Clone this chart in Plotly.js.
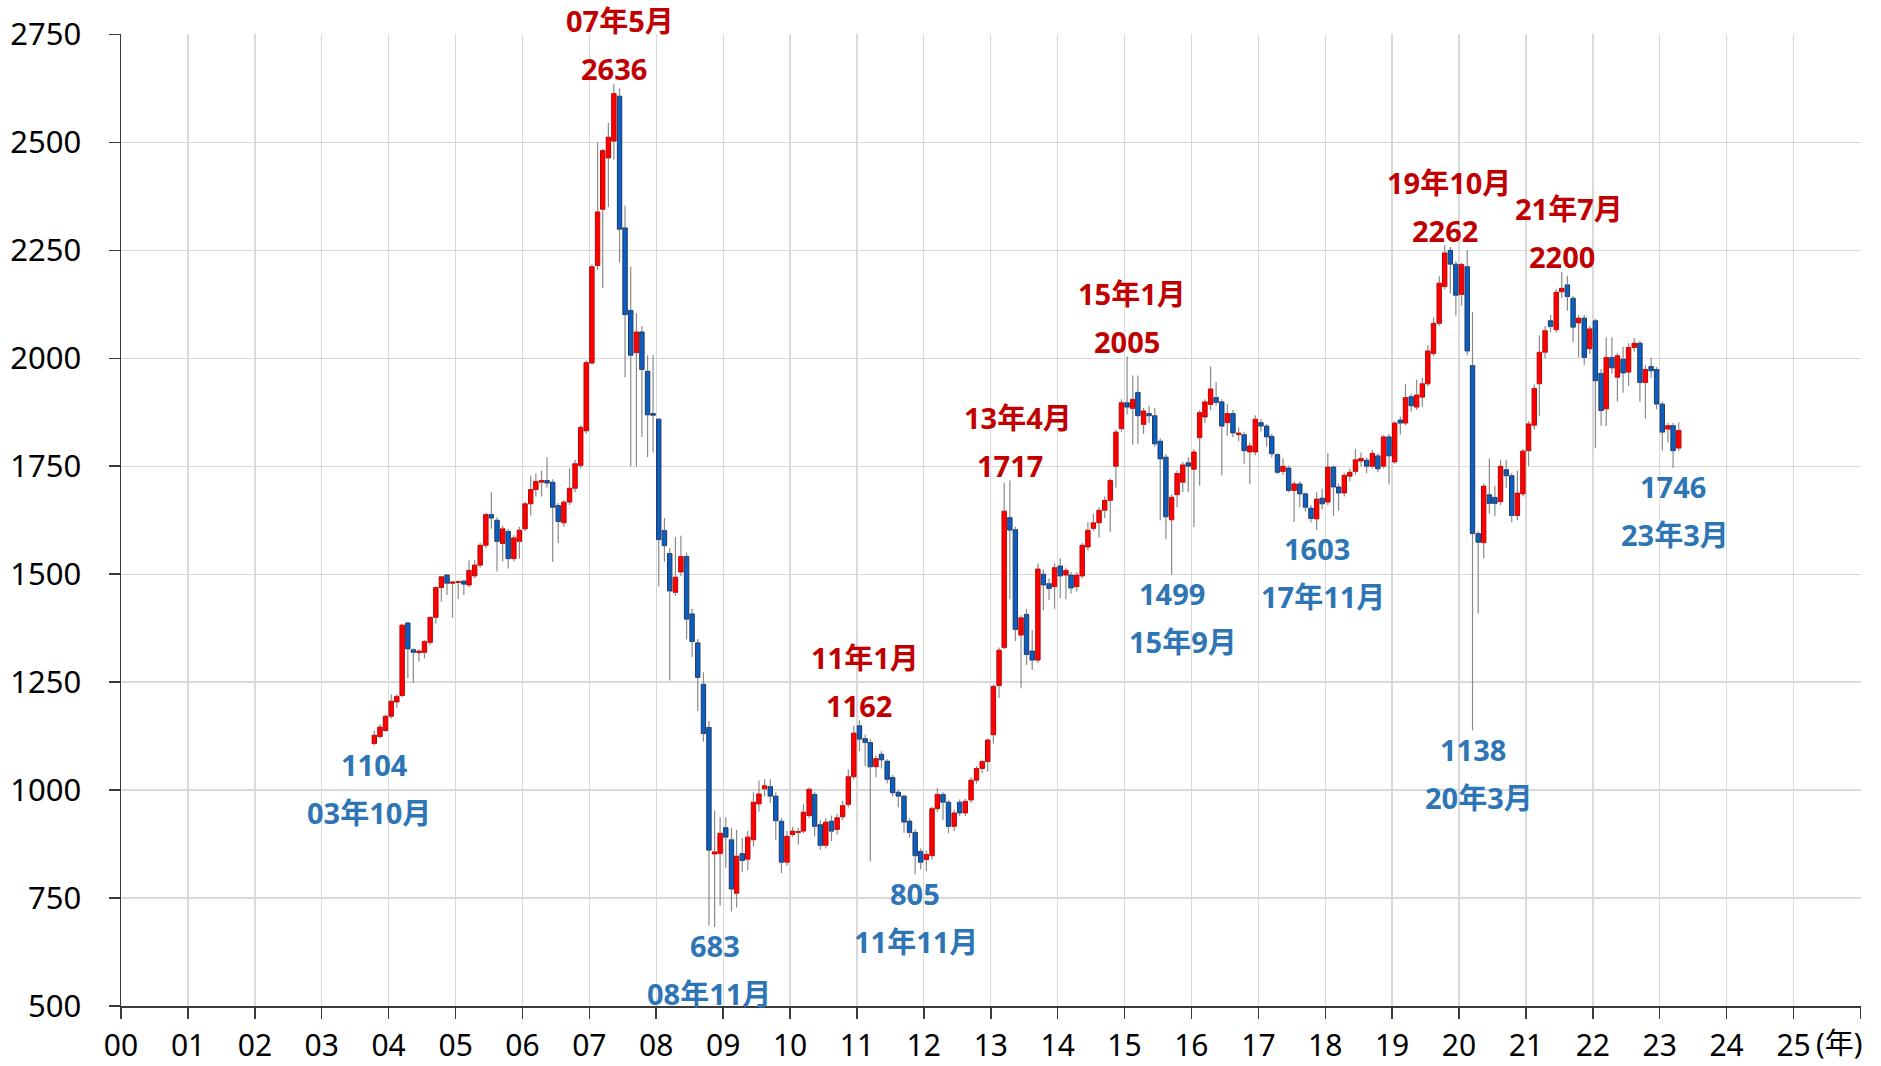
<!DOCTYPE html>
<html>
<head>
<meta charset="utf-8">
<script src="https://cdn.plot.ly/plotly-3.0.1.min.js"></script>
<style>
  html, body { margin: 0; padding: 0; background: #fff; }
  #chart { width: 1881px; height: 1066px; }
</style>
</head>
<body>
<div id="chart"></div>
<script>
// Monthly candles, first month 2003-10
const START_YEAR = 2003, START_MONTH = 10;

const openP = [
  1108,1124,1138,
  1171,1204,1219,1387,1325,1318,1319,1342,1400,1469,1498,1479,
  1481,1484,1475,1496,1521,1567,1638,1625,1571,1599,1536,1576,
  1605,1663,1696,1713,1717,1713,1659,1619,1667,1699,1752,1832,
  1989,2215,2345,2464,2503,2607,2302,2111,2013,2061,1970,1872,
  1859,1601,1548,1458,1505,1541,1408,1341,1245,1145,852,853,
  913,885,761,853,840,885,968,1003,1008,986,928,833,
  897,902,905,941,990,920,872,928,909,938,967,1031,
  1149,1119,1110,1054,1083,1067,1029,995,986,928,902,858,
  839,848,957,990,972,916,972,947,977,1023,1050,1066,
  1128,1242,1330,1631,1603,1359,1407,1322,1301,1500,1478,1471,
  1519,1498,1498,1471,1496,1563,1606,1619,1648,1671,1750,1837,
  1897,1884,1921,1847,1872,1867,1808,1771,1626,1684,1713,1758,
  1743,1816,1864,1893,1909,1899,1851,1872,1823,1823,1783,1783,
  1851,1843,1819,1777,1738,1746,1694,1709,1686,1653,1628,1676,
  1667,1748,1702,1688,1727,1738,1762,1764,1750,1774,1750,1818,
  1760,1857,1850,1911,1887,1910,1941,2011,2081,2166,2250,2218,
  2148,2212,1983,1594,1573,1684,1678,1668,1742,1728,1636,1686,
  1786,1845,1941,2014,2087,2066,2154,2170,2139,2082,2093,2022,
  2087,1965,1883,2002,1956,1998,1968,2025,2035,1944,1981,1974,
  1894,1836,1844,1792
];
const highP = [
  1138,1153,1175,
  1222,1222,1385,1390,1328,1326,1348,1402,1472,1496,1500,1484,
  1486,1487,1532,1532,1572,1642,1690,1632,1612,1605,1590,1610,
  1668,1728,1734,1740,1771,1720,1665,1672,1745,1765,1845,1995,
  2218,2500,2485,2545,2636,2625,2353,2212,2105,2075,2007,2007,
  1862,1630,1560,1586,1589,1550,1420,1350,1273,1160,953,937,
  937,913,908,889,905,995,1022,1025,1025,995,935,905,
  915,912,967,1006,995,930,935,941,945,975,1048,1149,
  1162,1128,1118,1080,1090,1072,1035,1000,990,935,910,865,
  860,962,1005,995,978,955,978,980,1030,1056,1070,1120,
  1245,1330,1712,1717,1610,1405,1420,1371,1525,1510,1490,1525,
  1537,1515,1505,1505,1572,1621,1640,1655,1680,1722,1835,1905,
  2005,1960,1960,1885,1890,1885,1815,1778,1685,1740,1760,1770,
  1790,1880,1905,1981,1945,1905,1895,1880,1840,1830,1805,1868,
  1860,1848,1825,1780,1768,1752,1715,1715,1690,1660,1690,1698,
  1780,1752,1710,1735,1745,1790,1782,1770,1788,1780,1822,1825,
  1855,1865,1940,1918,1951,1955,2030,2095,2190,2262,2258,2225,
  2222,2250,2107,1600,1710,1768,1705,1765,1765,1735,1740,1790,
  1855,1940,2053,2075,2100,2160,2200,2191,2145,2100,2100,2075,
  2092,1975,2049,2049,2012,2026,2035,2047,2040,1985,2002,1980,
  1900,1850,1850,1852
];
const lowP = [
  1104,1120,1135,
  1165,1190,1215,1259,1248,1298,1305,1336,1386,1436,1452,1399,
  1442,1452,1470,1490,1515,1560,1605,1506,1530,1513,1530,1536,
  1600,1636,1680,1680,1700,1529,1572,1610,1660,1690,1745,1825,
  1985,2205,2163,2350,2460,2222,1956,1750,1750,1818,1771,1782,
  1472,1529,1254,1450,1495,1349,1308,1183,1112,686,683,733,
  820,719,728,810,815,870,950,985,970,885,808,825,
  892,874,900,935,893,862,865,882,897,930,960,1025,
  1090,1056,835,1030,1050,1015,985,960,901,890,805,816,
  812,840,950,931,900,905,940,940,970,1015,1039,1043,
  1108,1213,1327,1442,1345,1236,1290,1278,1295,1417,1440,1420,
  1445,1442,1455,1460,1490,1555,1600,1585,1630,1598,1700,1830,
  1870,1800,1802,1825,1850,1795,1625,1581,1499,1655,1690,1690,
  1609,1705,1850,1880,1890,1729,1820,1817,1808,1756,1709,1775,
  1830,1795,1770,1732,1730,1690,1620,1655,1645,1620,1603,1650,
  1660,1635,1647,1680,1715,1730,1750,1734,1745,1736,1745,1708,
  1755,1823,1845,1877,1880,1888,1935,2005,2075,2160,2150,2099,
  2122,2007,1138,1409,1537,1640,1635,1660,1700,1620,1625,1680,
  1750,1835,1867,2000,2060,2060,2140,2110,2037,2002,1985,2010,
  1792,1844,1844,1965,1900,1920,1936,2015,1900,1860,1955,1882,
  1786,1805,1746,1785
];
const closeP = [
  1127,1146,1171,
  1206,1217,1382,1327,1319,1322,1344,1400,1469,1494,1479,1482,
  1483,1477,1509,1521,1567,1638,1630,1576,1605,1536,1584,1602,
  1663,1696,1715,1717,1711,1655,1622,1667,1699,1756,1840,1990,
  2212,2339,2481,2512,2613,2299,2101,2007,2061,1974,1869,1868,
  1580,1566,1461,1493,1541,1396,1344,1261,1131,861,857,900,
  891,771,847,837,891,972,991,1010,986,929,833,893,
  905,904,949,1002,916,872,926,905,936,964,1031,1132,
  1118,1110,1054,1073,1070,1025,994,986,926,902,848,833,
  851,957,990,972,916,947,947,974,1023,1050,1066,1116,
  1240,1324,1646,1602,1372,1399,1314,1301,1512,1475,1467,1515,
  1496,1509,1468,1498,1567,1602,1619,1648,1671,1717,1829,1897,
  1887,1905,1867,1878,1867,1802,1767,1633,1678,1733,1753,1750,
  1783,1874,1899,1929,1898,1843,1872,1827,1827,1786,1797,1859,
  1843,1818,1779,1736,1750,1694,1709,1686,1655,1629,1674,1663,
  1748,1702,1688,1729,1736,1765,1768,1750,1780,1744,1818,1774,
  1850,1850,1909,1890,1915,1941,2017,2081,2174,2244,2218,2146,
  2217,2017,1594,1574,1704,1664,1664,1750,1728,1636,1688,1785,
  1848,1930,2014,2064,2074,2153,2162,2143,2072,2093,2002,2068,
  1948,1879,2002,1978,2006,1966,2025,2035,1944,1974,1971,1894,
  1829,1844,1786,1833
];

// Labelled extremes
const peakMonths   = ['2007-05','2011-01','2013-04','2015-01','2019-10','2021-07'];
const troughMonths = ['2003-10','2008-11','2011-11','2015-09','2017-11','2020-03','2023-03'];

// Axis tick labels
const yearTickLabels = ['00','01','02','03','04','05','06','07','08','09','10','11','12',
  '13','14','15','16','17','18','19','20','21','22','23','24','25',''];
const yearUnitLabel = '(年)';
const yTicks = [500,750,1000,1250,1500,1750,2000,2250,2500,2750];

// ---- build ----
const months = [];
for (let i = 0; i < openP.length; i++) {
  const t = START_MONTH - 1 + i;
  const y = START_YEAR + Math.floor(t / 12);
  const m = (t % 12) + 1;
  months.push(y + '-' + String(m).padStart(2, '0'));
}
const xDates = months.map(s => s + '-15');

const UP = '#FF0000', UP_EDGE = '#C00000';
const DN = '#0A5FC0', DN_EDGE = '#1F3864';

const wx = [], wy = [];
for (let i = 0; i < months.length; i++) {
  const top = Math.max(openP[i], closeP[i]);
  const bot = Math.min(openP[i], closeP[i]);
  wx.push(xDates[i], xDates[i], null, xDates[i], xDates[i], null);
  wy.push(highP[i], top, null, bot, lowP[i], null);
}

const up = months.map((_, i) => closeP[i] >= openP[i]);

const wickTrace = {
  type: 'scatter', mode: 'lines', x: wx, y: wy,
  line: { color: '#8a8a8a', width: 1.2 }, connectgaps: false,
  hoverinfo: 'skip', showlegend: false
};
const bodyTrace = {
  type: 'bar', x: xDates,
  base: openP,
  y: closeP.map((c, i) => c - openP[i]),
  width: 24 * 86400000,
  marker: {
    color: up.map(u => u ? UP : DN),
    line: { color: up.map(u => u ? UP_EDGE : DN_EDGE), width: 1 }
  },
  hoverinfo: 'skip', showlegend: false
};

const FONT = 'Noto Sans, Noto Sans CJK JP, Liberation Sans, sans-serif';
const annotations = [];
function monthLabel(s) {
  const yy = s.slice(2, 4), mm = parseInt(s.slice(5, 7), 10);
  return yy + '年' + mm + '月';
}
// small horizontal nudges of the month labels (pixels), in label order
const peakLabelNudge   = [6, 6, 8, 5, 4, 7];
const troughLabelNudge = [-5, -6, 1, 11, 6, 6, 2];

peakMonths.forEach((s, k) => {
  const i = months.indexOf(s);
  annotations.push({ x: xDates[i], y: highP[i], text: String(highP[i]), showarrow: false,
    xanchor: 'center', yanchor: 'middle', yshift: 15,
    font: { family: FONT, size: 29, color: '#C00000', weight: 'bold' } });
  annotations.push({ x: xDates[i], y: highP[i], text: monthLabel(s), showarrow: false,
    xanchor: 'center', yanchor: 'middle', yshift: 63, xshift: peakLabelNudge[k],
    font: { family: FONT, size: 29, color: '#C00000', weight: 'bold' } });
});
troughMonths.forEach((s, k) => {
  const i = months.indexOf(s);
  annotations.push({ x: xDates[i], y: lowP[i], text: String(lowP[i]), showarrow: false,
    xanchor: 'center', yanchor: 'middle', yshift: -19,
    font: { family: FONT, size: 29, color: '#2E75B6', weight: 'bold' } });
  annotations.push({ x: xDates[i], y: lowP[i], text: monthLabel(s), showarrow: false,
    xanchor: 'center', yanchor: 'middle', yshift: -67, xshift: troughLabelNudge[k],
    font: { family: FONT, size: 29, color: '#2E75B6', weight: 'bold' } });
});

annotations.push({ x: '2025-09-05', y: 0, xref: 'x', yref: 'paper', text: yearUnitLabel,
  showarrow: false, xanchor: 'center', yanchor: 'middle', yshift: -36, borderpad: 0,
  font: { family: FONT, size: 29, color: '#000' } });

const tickvals = yearTickLabels.map((_, k) => (2000 + k) + '-01-01');

const layout = {
  width: 1881, height: 1066,
  margin: { l: 121, r: 20, t: 34, b: 60, pad: 0 },
  paper_bgcolor: '#fff', plot_bgcolor: '#fff',
  showlegend: false, hovermode: false, bargap: 0,
  font: { family: FONT, color: '#000' },
  xaxis: {
    type: 'date', range: ['2000-01-01', '2026-01-04'],
    tickmode: 'array', tickvals: tickvals, ticktext: yearTickLabels,
    showgrid: true, gridcolor: '#d9d9d9', gridwidth: 1.3,
    showline: true, linecolor: '#3a3a3a', linewidth: 1.5,
    ticks: 'outside', ticklen: 11, tickwidth: 1.5, tickcolor: '#3a3a3a',
    tickfont: { family: FONT, size: 30, color: '#000' },
    ticklabelstandoff: 1, zeroline: false, fixedrange: true
  },
  yaxis: {
    range: [500, 2751], tickmode: 'array', tickvals: yTicks,
    showgrid: true, gridcolor: '#d9d9d9', gridwidth: 1.3,
    showline: true, linecolor: '#3a3a3a', linewidth: 1.5,
    ticks: 'outside', ticklen: 11, tickwidth: 1.5, tickcolor: '#3a3a3a',
    tickfont: { family: FONT, size: 31, color: '#000' },
    ticklabelstandoff: 21, zeroline: false, fixedrange: true
  },
  annotations: annotations
};

Plotly.newPlot('chart', [wickTrace, bodyTrace], layout, { staticPlot: true, displayModeBar: false });
</script>
</body>
</html>
